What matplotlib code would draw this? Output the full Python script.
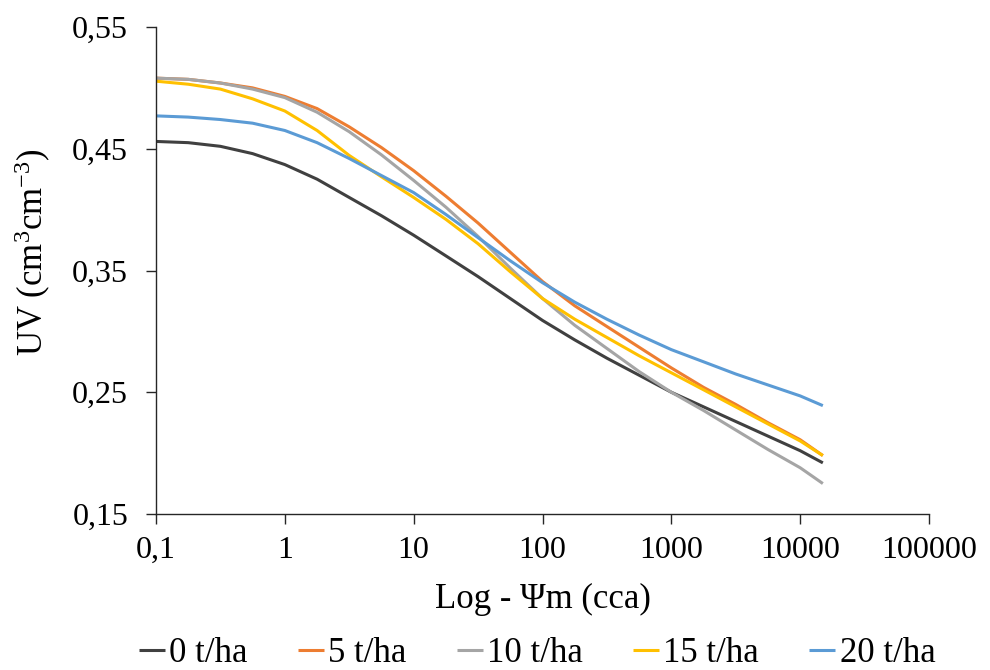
import matplotlib
matplotlib.use("Agg")
import matplotlib.pyplot as plt
from matplotlib.ticker import FuncFormatter, FixedLocator, NullLocator

plt.rcParams['font.family'] = ['Liberation Serif', 'DejaVu Serif']
plt.rcParams['mathtext.fontset'] = 'custom'
plt.rcParams['mathtext.rm'] = 'Liberation Serif'
plt.rcParams['mathtext.it'] = 'Liberation Serif:italic'

# succión (cm de columna de agua)
psi = [0.1, 0.178, 0.316, 0.562, 1, 1.78, 3.16, 5.62, 10, 17.8, 31.6, 56.2,
       100, 178, 316, 562, 1000, 1780, 3160, 5620, 10000, 15000]

uv_0 = [0.456, 0.455, 0.452, 0.446, 0.437, 0.425, 0.410, 0.395, 0.379, 0.362,
        0.345, 0.327, 0.309, 0.293, 0.278, 0.264, 0.250, 0.238, 0.226, 0.214,
        0.202, 0.192]
uv_5 = [0.508, 0.507, 0.504, 0.500, 0.493, 0.483, 0.468, 0.451, 0.432, 0.411,
        0.389, 0.365, 0.341, 0.321, 0.304, 0.287, 0.270, 0.254, 0.240, 0.225,
        0.211, 0.198]
uv_10 = [0.508, 0.507, 0.504, 0.499, 0.492, 0.480, 0.464, 0.445, 0.424, 0.402,
         0.378, 0.352, 0.327, 0.305, 0.286, 0.267, 0.250, 0.235, 0.219, 0.203,
         0.188, 0.175]
uv_15 = [0.5055, 0.503, 0.499, 0.491, 0.481, 0.465, 0.4445, 0.427, 0.410, 0.392,
         0.372, 0.349, 0.327, 0.310, 0.295, 0.280, 0.266, 0.252, 0.238, 0.224,
         0.210, 0.198]
uv_20 = [0.477, 0.476, 0.474, 0.471, 0.465, 0.455, 0.442, 0.428, 0.414, 0.396,
         0.377, 0.358, 0.340, 0.324, 0.310, 0.297, 0.285, 0.275, 0.265, 0.256,
         0.247, 0.239]

series = [
    ("0 t/ha", uv_0, "#404040"),
    ("5 t/ha", uv_5, "#ED7D31"),
    ("10 t/ha", uv_10, "#A5A5A5"),
    ("15 t/ha", uv_15, "#FFC000"),
    ("20 t/ha", uv_20, "#5B9BD5"),
]

x_ticks = [0.1, 1, 10, 100, 1000, 10000, 100000]
y_ticks = [0.15, 0.25, 0.35, 0.45, 0.55]

fs = 23
fs_titulo = 25

fig = plt.figure(figsize=(9.9, 6.7), dpi=100)
ax = fig.add_axes([156 / 990, 1 - 514 / 670, (929 - 156) / 990, (514 - 27) / 670])

for nombre, uv, color in series:
    ax.plot(psi, uv, color=color, lw=2.2, label=nombre, solid_capstyle='butt')

ax.set_xscale('log')
ax.set_xlim(0.1, 100000)
ax.set_ylim(0.15, 0.55)
ax.xaxis.set_major_locator(FixedLocator(x_ticks))
ax.xaxis.set_minor_locator(NullLocator())
ax.yaxis.set_major_locator(FixedLocator(y_ticks))
ax.xaxis.set_major_formatter(FuncFormatter(lambda v, p: "0,1" if v < 1 else f"{int(round(v))}"))
ax.yaxis.set_major_formatter(FuncFormatter(lambda v, p: f"{v:.2f}".replace('.', ',')))

for s in ['top', 'right']:
    ax.spines[s].set_visible(False)
for s in ['left', 'bottom']:
    ax.spines[s].set_color('#262626')
    ax.spines[s].set_linewidth(1.0)

ax.tick_params(axis='both', direction='out', length=7, width=1.0, color='#262626', labelsize=fs)
ax.tick_params(axis='y', pad=13)
ax.tick_params(axis='x', pad=9)

ax.set_xlabel("Log - Ψm (cca)", fontsize=fs_titulo, labelpad=13)
ax.set_ylabel(r"UV (cm$^{\mathrm{3}}$cm$^{\mathrm{-3}}$)", fontsize=fs_titulo)
ax.yaxis.set_label_coords(-0.133, 0.538)

fig.legend(loc='center', bbox_to_anchor=(537 / 990, 1 - 654 / 670), ncol=5,
           frameon=False, fontsize=fs_titulo, handlelength=0.75, handletextpad=0.12,
           columnspacing=1.45, borderpad=0, borderaxespad=0)

fig.savefig("out.png", dpi=100)
